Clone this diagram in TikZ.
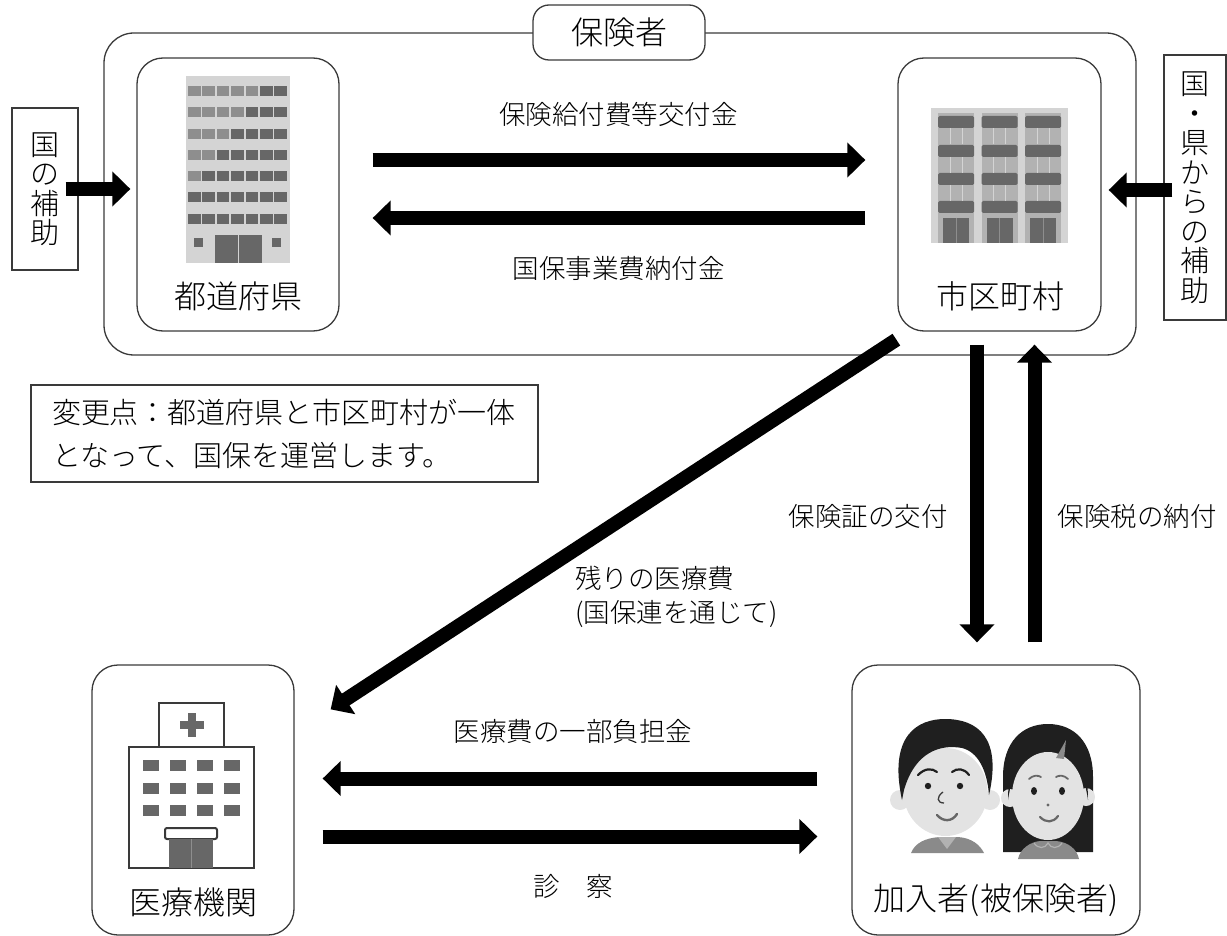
\documentclass[tikz,border=0pt]{standalone}
\usepackage{fontspec}
\setmainfont{Noto Sans CJK JP}[UprightFont={* Light}, BoldFont={*}]
\usetikzlibrary{arrows.meta,positioning}

\definecolor{linegray}{HTML}{3A3A3A}
\definecolor{wallgray}{HTML}{D4D4D4}
\definecolor{midgray}{HTML}{B2B2B2}
\definecolor{wingray}{HTML}{676767}
\definecolor{litegray}{HTML}{8E8E8E}
\definecolor{skingray}{HTML}{E3E3E3}
\definecolor{hairgray}{HTML}{1F1F1F}
\definecolor{clothgray}{HTML}{8A8A8A}

\newcommand\boxfont{\fontsize{32pt}{36pt}\selectfont}
\newcommand\flowfont{\fontsize{26.5pt}{34pt}\selectfont}
\newcommand\notefont{\fontsize{29pt}{43pt}\selectfont}
\newcommand\sidefont{\fontsize{29pt}{29.5pt}\selectfont}

\tikzset{
  frame/.style={draw=linegray, line width=1.3pt, rounded corners=26pt},
  plainbox/.style={draw=linegray, line width=1.2pt},
  fat/.style={line width=14pt, -{Triangle[length=18pt,width=34pt]}},
  flowlabel/.style={inner sep=0pt, font=\flowfont},
}

\begin{document}
\begin{tikzpicture}[x=1pt,y=-1pt]
\useasboundingbox (0,0) rectangle (1227,936);

% insurer group and its tag
\node[frame, rounded corners=30pt, minimum width=1032pt, minimum height=322pt] (insurer) at (620,194) {};
\node[frame, rounded corners=16pt, fill=white, minimum width=172pt, minimum height=55pt, font=\boxfont] (insurertag) at (619,32.5) {保険者};

% the four parties
\node[frame, minimum width=202pt, minimum height=273pt] (pref) at (238,194.5) {};
\node[frame, minimum width=203pt, minimum height=273pt] (city) at (999.5,194.5) {};
\node[frame, minimum width=202pt, minimum height=270pt] (med) at (193,800) {};
\node[frame, minimum width=288pt, minimum height=270pt] (member) at (996,800) {};

\node[font=\boxfont] (preflbl) at (238,296) {都道府県};
\node[font=\boxfont] (citylbl) at (1000,296) {市区町村};
\node[font=\boxfont] (medlbl) at (193,902) {医療機関};
\node[font=\boxfont] (memberlbl) at (996,900) {加入者(被保険者)};

% subsidies
\node[plainbox, minimum width=66pt, minimum height=162pt, align=center, font=\sidefont] (natsub) at (45,189) {国\\の\\補\\助};
\node[plainbox, minimum width=62pt, minimum height=265pt, align=center, font=\sidefont] (prefsub) at (1195,187.5) {国\\・\\県\\か\\ら\\の\\補\\助};

% note
\node[plainbox, text width=465pt, inner xsep=21pt, minimum height=97pt, align=left, font=\notefont] (note) at (284.5,433.5)
  {変更点：都道府県と市区町村が一体\\となって、国保を運営します。};

% prefectural office building
\fill[wallgray] (186,76) rectangle (290,263);
\foreach \r in {0,...,6}
  \foreach \c in {0,...,6}
    \fill[wingray] (188+\c*14.4,86+\r*21.3) rectangle ++(12.5,10);
\foreach \r/\n in {0/4,1/3,2/2,3/1,4/0}
  \foreach \c in {0,...,\n}
    \fill[litegray] (188+\c*14.4,86+\r*21.3) rectangle ++(12.5,10);
\fill[wingray] (215,235) rectangle (262,263);
\draw[wallgray, line width=1.5pt] (238.5,235) -- (238.5,263);
\fill[wingray] (194,238) rectangle (203,247);
\fill[wingray] (272,238) rectangle (281,247);

% city hall block
\fill[wallgray] (931,108) rectangle (1068,243);
\foreach \x in {938,981.5,1025} {
  \fill[midgray] (\x,113) rectangle ++(36,130);
  \foreach \y in {116,145,173,201}
    \fill[wingray, rounded corners=1.5pt] (\x,\y) rectangle ++(36,12);
  \foreach \y in {128,157,185} {
    \draw[wallgray, line width=1pt] (\x+12,\y) -- ++(0,16);
    \draw[wallgray, line width=1pt] (\x+24,\y) -- ++(0,16);
  }
  \fill[wingray] (\x+5,218) rectangle ++(26,25);
  \draw[litegray, line width=1pt] (\x+18,218) -- ++(0,25);
}

% hospital
\draw[linegray, line width=2.5pt, fill=white] (159,703) rectangle (224,747);
\fill[wingray] (188,713) rectangle (196,737);
\fill[wingray] (180,721) rectangle (204,729);
\draw[linegray, line width=2.5pt, fill=white] (129,747) rectangle (254,868);
\foreach \x in {143,169.5,196.5,224}
  \foreach \y in {760,783,805}
    \fill[wingray] (\x,\y) rectangle ++(16,11);
\draw[linegray, line width=2pt, fill=white, rounded corners=2pt] (165,828) rectangle (217,839);
\fill[wingray] (169,839) rectangle (213,868);
\draw[litegray, line width=1pt] (191,839) -- (191,868);

% members: man
\fill[clothgray] (911,853) .. controls (915,843) and (925,838) .. (940,837) -- (958,837) .. controls (972,838) and (980,845) .. (984,853) -- cycle;
\fill[midgray] (938,837) -- (947,849) -- (956,837) -- cycle;
\fill[skingray] (900,800) circle (10pt);
\fill[skingray] (990,800) circle (10pt);
\fill[skingray] (945.5,792) ellipse (42pt and 44pt);
\fill[hairgray] (902,800) .. controls (888,735) and (918,719) .. (945,719)
  .. controls (978,719) and (1002,738) .. (989,795)
  .. controls (987,770) and (978,752) .. (962,748)
  .. controls (940,744) and (915,752) .. (904,790) -- cycle;
\draw[hairgray, line width=2.2pt, line cap=round] (918,775) .. controls (925,768) and (932,768) .. (937,772);
\draw[hairgray, line width=2.2pt, line cap=round] (952,772) .. controls (957,768) and (964,768) .. (969,775);
\fill[hairgray] (928,786) circle (3.2pt);
\fill[hairgray] (960,786) circle (3.2pt);
\draw[linegray, line width=1.3pt] (943,792) .. controls (936,797) and (937,803) .. (944,803);
\draw[wingray, line width=2.4pt, line cap=round] (937,815) .. controls (943,822) and (952,822) .. (957,814);

% members: woman
\fill[hairgray] (1003,852) -- (1003,777) .. controls (1003,742) and (1022,724) .. (1048,724)
  .. controls (1074,724) and (1093,742) .. (1093,777) -- (1093,852) -- cycle;
\fill[skingray] (1010,798) circle (9pt);
\fill[skingray] (1086,797) circle (9pt);
\fill[skingray] (1048,796) ellipse (36pt and 44pt);
\fill[hairgray] (1008,800) .. controls (1008,760) and (1022,738) .. (1048,738)
  .. controls (1074,738) and (1088,760) .. (1088,800)
  .. controls (1084,770) and (1070,752) .. (1048,751)
  .. controls (1026,752) and (1012,770) .. (1008,800) -- cycle;
\fill[clothgray] (1056,758) -- (1066,740) -- (1064,759) -- cycle;
\draw[wingray, line width=1.8pt, line cap=round] (1029,779) .. controls (1033,775) and (1038,775) .. (1041,777);
\draw[wingray, line width=1.8pt, line cap=round] (1056,777) .. controls (1059,775) and (1064,775) .. (1068,779);
\fill[hairgray] (1034,791) ellipse (3pt and 4pt);
\fill[hairgray] (1062,791) ellipse (3pt and 4pt);
\fill[wingray] (1048,805) circle (1.6pt);
\draw[wingray, line width=2.2pt, line cap=round] (1040,817) .. controls (1046,823) and (1053,823) .. (1058,816);
\fill[clothgray] (1018,859) .. controls (1020,849) and (1030,842) .. (1040,841) -- (1056,841) .. controls (1068,842) and (1077,849) .. (1079,859) -- cycle;
\draw[midgray, line width=1.2pt] (1034,843) .. controls (1038,849) and (1045,849) .. (1048,843) .. controls (1051,849) and (1058,849) .. (1062,843);

% money flows inside the insurer
\draw[fat, shorten <=33pt, shorten >=32pt] ([yshift=34.5pt]pref.east) -- node[flowlabel, above=26pt] (paylbl) {保険給付費等交付金} ([yshift=34.5pt]city.west);
\draw[fat, shorten <=32pt, shorten >=33pt] ([yshift=-23.5pt]city.west) -- node[flowlabel, below=31pt] (levylbl) {国保事業費納付金} ([yshift=-23.5pt]pref.east);

% subsidies in
\draw[fat, shorten >=6pt] ([xshift=-13pt]natsub.east) -- (natsub.east -| pref.west);
\draw[fat, shorten >=7pt] ([xshift=9pt,yshift=-2.5pt]prefsub.west) -- ([yshift=-2.5pt]prefsub.west -| city.east);

% city and members
\draw[fat, shorten <=13pt, shorten >=22pt] ([xshift=-22.5pt]city.south) -- ([xshift=-22.5pt]city.south |- member.north);
\draw[fat, shorten <=22pt, shorten >=13pt] ([xshift=35pt]city.south |- member.north) -- ([xshift=35pt]city.south);
\node[flowlabel] (cardlbl) at (868,516) {保険証の交付};
\node[flowlabel] (taxlbl) at (1137,516) {保険税の納付};

% remaining cost to the hospital
\draw[fat] ([xshift=-1pt,yshift=-8pt]city.south west) -- ([xshift=36pt,yshift=-45pt]med.north east);
\node[flowlabel, align=left, anchor=west] (restlbl) at (575,597) {残りの医療費\\(国保連を通じて)};

% members and hospital
\draw[fat, shorten <=34pt, shorten >=28pt] ([yshift=21.5pt]member.west) -- node[flowlabel, above=28pt] (sharelbl) {医療費の一部負担金} ([yshift=21.5pt]med.east);
\draw[fat, shorten <=28pt, shorten >=34pt] ([yshift=-36.5pt]med.east) -- node[flowlabel, below=31pt] (carelbl) {診　察} ([yshift=-36.5pt]member.west);
\end{tikzpicture}
\end{document}
